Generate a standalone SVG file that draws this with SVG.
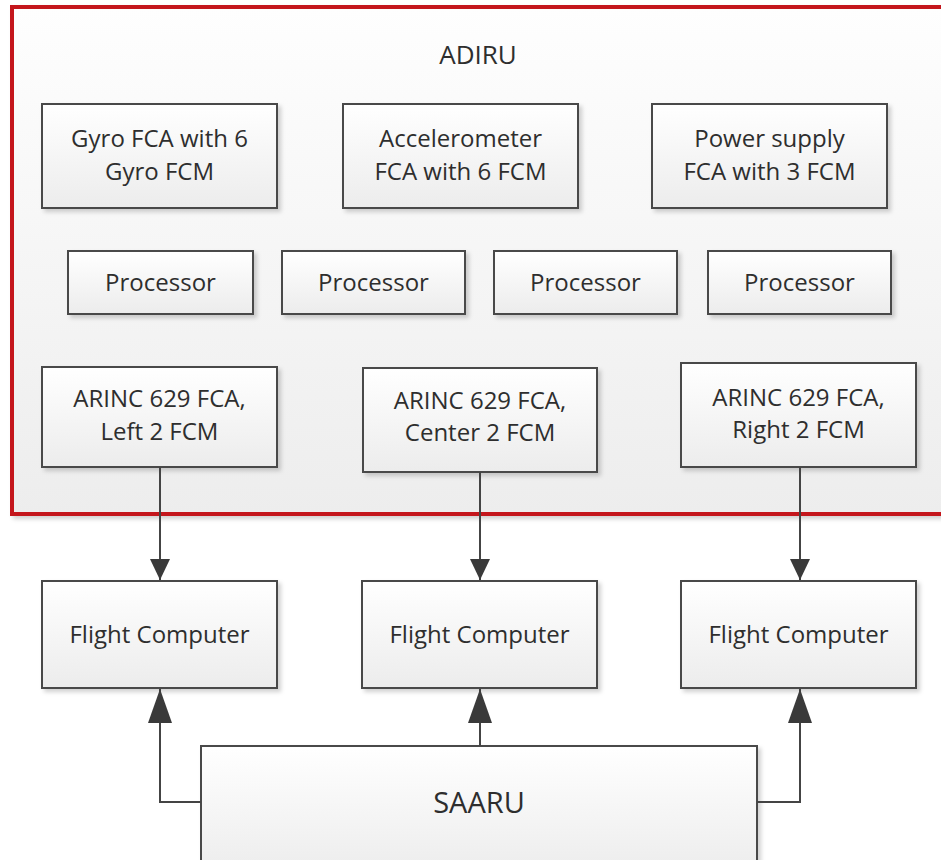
<svg xmlns="http://www.w3.org/2000/svg" width="941" height="860" viewBox="0 0 941 860">
<style>
.box{fill:url(#boxg);stroke:#4a4a4a;stroke-width:2;filter:url(#sh)}
.t{font-family:"Open Sans","Noto Sans",sans-serif;font-size:24px;fill:#2e2e2e;text-anchor:middle}
.c{fill:none;stroke:#444;stroke-width:2}
</style>
<defs>
<linearGradient id="boxg" x1="0" y1="0" x2="0" y2="1">
<stop offset="0" stop-color="#ffffff"/>
<stop offset="1" stop-color="#ececec"/>
</linearGradient>
<linearGradient id="bg" x1="0" y1="0" x2="0" y2="1">
<stop offset="0" stop-color="#fefefe"/>
<stop offset="1" stop-color="#ededed"/>
</linearGradient>
<filter id="sh" x="-10%" y="-10%" width="130%" height="130%">
<feDropShadow dx="3" dy="3" stdDeviation="2" flood-color="#000" flood-opacity="0.18"/>
</filter>
<marker id="aS" markerUnits="userSpaceOnUse" markerWidth="22" markerHeight="22" refX="21" refY="10" orient="auto">
<path d="M0,0 L21,10 L0,20 Z" fill="#3a3a3a"/>
</marker>
<marker id="aL" markerUnits="userSpaceOnUse" markerWidth="36" markerHeight="26" refX="34" refY="12" orient="auto">
<path d="M0,0 L34,12 L0,24 Z" fill="#3a3a3a"/>
</marker>
</defs>
<rect width="941" height="860" fill="#ffffff"/>

<g id="adiru">
<rect x="12" y="7" width="960" height="507" fill="url(#bg)" stroke="#c4161c" stroke-width="4" filter="url(#sh)"/>
<text class="t" x="478" y="64" style="font-size:26px">ADIRU</text>
</g>

<g id="gyro"><rect class="box" x="42" y="104" width="235" height="104"/>
<text class="t" x="159.5" y="147">Gyro FCA with 6</text><text class="t" x="159.5" y="180">Gyro FCM</text></g>
<g id="accel"><rect class="box" x="343" y="104" width="235" height="104"/>
<text class="t" x="460.5" y="147">Accelerometer</text><text class="t" x="460.5" y="180">FCA with 6 FCM</text></g>
<g id="power"><rect class="box" x="652" y="104" width="235" height="104"/>
<text class="t" x="769.5" y="147">Power supply</text><text class="t" x="769.5" y="180">FCA with 3 FCM</text></g>

<g id="proc1"><rect class="box" x="68" y="251" width="185" height="63"/><text class="t" x="160.5" y="291">Processor</text></g>
<g id="proc2"><rect class="box" x="282" y="251" width="183" height="63"/><text class="t" x="373.5" y="291">Processor</text></g>
<g id="proc3"><rect class="box" x="494" y="251" width="183" height="63"/><text class="t" x="585.5" y="291">Processor</text></g>
<g id="proc4"><rect class="box" x="708" y="251" width="183" height="63"/><text class="t" x="799.5" y="291">Processor</text></g>

<g id="arincL"><rect class="box" x="42" y="367" width="235" height="100"/>
<text class="t" x="159.5" y="407">ARINC 629 FCA,</text><text class="t" x="159.5" y="440">Left 2 FCM</text></g>
<g id="arincC"><rect class="box" x="363" y="368" width="234" height="104"/>
<text class="t" x="480" y="409">ARINC 629 FCA,</text><text class="t" x="480" y="441">Center 2 FCM</text></g>
<g id="arincR"><rect class="box" x="681" y="363" width="235" height="104"/>
<text class="t" x="798.5" y="406">ARINC 629 FCA,</text><text class="t" x="798.5" y="438">Right 2 FCM</text></g>

<g id="fcL"><rect class="box" x="42" y="581" width="235" height="107"/><text class="t" x="159.5" y="643">Flight Computer</text></g>
<g id="fcC"><rect class="box" x="362" y="581" width="235" height="107"/><text class="t" x="479.5" y="643">Flight Computer</text></g>
<g id="fcR"><rect class="box" x="681" y="581" width="235" height="107"/><text class="t" x="798.5" y="643">Flight Computer</text></g>

<g id="saaru"><rect class="box" x="201" y="746" width="556" height="130"/><text class="t" x="479" y="813" style="font-size:29px">SAARU</text></g>

<g id="connectors">
<path class="c" d="M160,467 V580" marker-end="url(#aS)"/>
<path class="c" d="M480,472 V580" marker-end="url(#aS)"/>
<path class="c" d="M800,467 V580" marker-end="url(#aS)"/>
<path class="c" d="M201,802 H160 V689" marker-end="url(#aL)"/>
<path class="c" d="M480,746 V689" marker-end="url(#aL)"/>
<path class="c" d="M757,802 H800 V689" marker-end="url(#aL)"/>
</g>
</svg>
